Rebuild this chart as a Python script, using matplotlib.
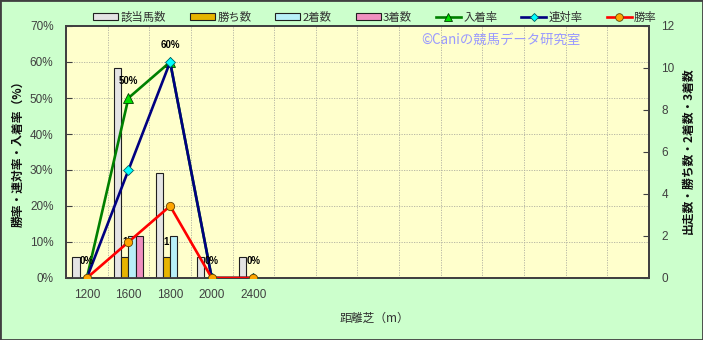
import matplotlib
matplotlib.use("Agg")
import matplotlib.pyplot as plt
import numpy as np
from matplotlib.patches import Rectangle, Patch
from matplotlib.lines import Line2D
from matplotlib.ticker import FixedLocator, FuncFormatter

plt.rcParams['font.family'] = ['Noto Sans CJK JP', 'DejaVu Sans']

# ---- data ----
categories = ["1200", "1600", "1800", "2000", "2400"]
n_slots = 14
runners = [1, 10, 5, 1, 1]        # 該当馬数
wins = [0, 1, 1, 0, 0]            # 勝ち数
seconds = [0, 2, 2, 0, 0]         # 2着数
thirds = [0, 2, 0, 0, 0]          # 3着数
place_rate = [0.0, 0.5, 0.6, 0.0, 0.0]   # 入着率
rentai_rate = [0.0, 0.3, 0.6, 0.0, 0.0]  # 連対率
win_rate = [0.0, 0.1, 0.2, 0.0, 0.0]     # 勝率

W, H = 703, 340
fig = plt.figure(figsize=(W / 100, H / 100), dpi=100)
fig.patch.set_facecolor('#CCFFCC')
fig.patches.append(Rectangle((0, 0), 1, 1, transform=fig.transFigure, fill=False,
                             edgecolor='#404040', lw=2.0, zorder=10))

L, R, T, B = 66, 649, 26, 278
axb = fig.add_axes([L / W, 1 - B / H, (R - L) / W, (B - T) / H])
axb.set_facecolor('#FFFFCC')
axl = axb.twinx()

x = np.arange(len(categories))
bw = 0.175
bar_specs = [
    (runners, '#E4E4E4', '該当馬数', -1.5),
    (wins, '#E6B400', '勝ち数', -0.5),
    (seconds, '#B8F0F8', '2着数', 0.5),
    (thirds, '#F090C0', '3着数', 1.5),
]
for vals, col, lab, off in bar_specs:
    axb.bar(x + off * bw, vals, width=bw, color=col, edgecolor='#202020',
            linewidth=0.8, zorder=3)

# win count labels
for xi, v in zip(x, wins):
    if v > 0:
        axb.annotate(str(v), (xi - 0.5 * bw, v), xytext=(0, 15), textcoords='offset pixels',
                     ha='center', va='center', fontsize=7, fontweight='bold',
                     family='Liberation Sans', color='black', zorder=6)

axb.set_xlim(-0.5, n_slots - 0.5)
axb.set_ylim(0, 12)
axb.yaxis.tick_right()
axb.yaxis.set_label_position('right')
axb.set_yticks(np.arange(0, 13, 2))
axb.yaxis.set_minor_locator(FixedLocator(np.arange(1, 7) * 12 / 7))
axb.xaxis.set_minor_locator(FixedLocator(np.arange(0.5, n_slots - 0.5, 1)))
axb.grid(True, which='minor', color='#B0B0A0', linestyle=(0, (1.5, 1.5)), lw=0.6)
axb.set_axisbelow(True)
axb.tick_params(axis='y', which='minor', length=0, right=False, left=False)
axb.tick_params(axis='x', which='both', length=0)
axb.tick_params(axis='y', which='major', direction='in', length=4, pad=9,
                labelsize=8.5, labelcolor='#404040', color='#404040')
axb.set_xticks(x)
axb.set_xticklabels(categories)
axb.tick_params(axis='x', pad=8, labelsize=8.5, labelcolor='#404040')
for lab in axb.get_xticklabels() + axb.get_yticklabels():
    lab.set_family('Liberation Sans')

# lines
axl.plot(x, place_rate, color='#008000', lw=1.9, marker='^', ms=6.5,
         mfc='#00E000', mec='#004000', mew=0.6, zorder=4)
axl.plot(x, rentai_rate, color='#000080', lw=1.9, marker='D', ms=5,
         mfc='#00FFFF', mec='#006060', mew=0.6, zorder=5)
axl.plot(x, win_rate, color='#FF0000', lw=1.9, marker='o', ms=6,
         mfc='#FFA500', mec='#604000', mew=0.6, zorder=6)
for xi, v in zip(x, place_rate):
    axl.annotate(f"{v:.0%}", (xi, v), xytext=(0, 17), textcoords='offset pixels',
                 ha='center', va='center', fontsize=7, fontweight='bold',
                 family='Liberation Sans', color='black', zorder=7)

axl.set_ylim(0, 0.7)
axl.yaxis.tick_left()
axl.yaxis.set_label_position('left')
axl.set_yticks(np.arange(0, 0.71, 0.1))
axl.yaxis.set_major_formatter(FuncFormatter(lambda v, p: f"{v * 100:.0f}%"))
axl.tick_params(axis='y', direction='in', length=4, pad=9, labelsize=8.5,
                labelcolor='#404040', color='#404040')
for lab in axl.get_yticklabels():
    lab.set_family('Liberation Sans')

for a in (axb, axl):
    for s in a.spines.values():
        s.set_color('#404040')
        s.set_linewidth(1.3)

# axis labels
fig.text(18 / W, 1 - 151 / H, '勝率・連対率・入着率（%）', rotation=90, ha='center', va='center',
         fontsize=8.5, fontweight='bold', color='#101010')
fig.text(688 / W, 1 - 151 / H, '出走数・勝ち数・2着数・3着数', rotation=90, ha='center', va='center',
         fontsize=8.5, fontweight='bold', color='#101010')
fig.text(374 / W, 1 - 318 / H, '距離芝（m）', ha='center', va='center',
         fontsize=8.5, color='#303030')

# watermark
axb.text(501 / W, 1 - 40 / H, '©Caniの競馬データ研究室', transform=fig.transFigure,
         ha='center', va='center', fontsize=9.6, color='#9999FF', zorder=8)

# legend
handles = [Patch(facecolor=c, edgecolor='#202020', lw=0.8, label=l) for _, c, l, _ in bar_specs]
handles += [
    Line2D([], [], color='#008000', lw=1.9, marker='^', ms=6, mfc='#00E000', mec='#004000', mew=0.6, label='入着率'),
    Line2D([], [], color='#000080', lw=1.9, marker='D', ms=4.5, mfc='#00FFFF', mec='#006060', mew=0.6, label='連対率'),
    Line2D([], [], color='#FF0000', lw=1.9, marker='o', ms=5.5, mfc='#FFA500', mec='#604000', mew=0.6, label='勝率'),
]
leg = fig.legend(handles=handles, ncol=7, loc='center', bbox_to_anchor=(375 / W, 1 - 17 / H),
                 frameon=False, fontsize=8.2, handlelength=2.2, handleheight=0.6,
                 handletextpad=0.2, columnspacing=2.1, borderpad=0, borderaxespad=0)
for t in leg.get_texts():
    t.set_color('#303030')

fig.savefig('out.png', dpi=100, facecolor=fig.get_facecolor())
